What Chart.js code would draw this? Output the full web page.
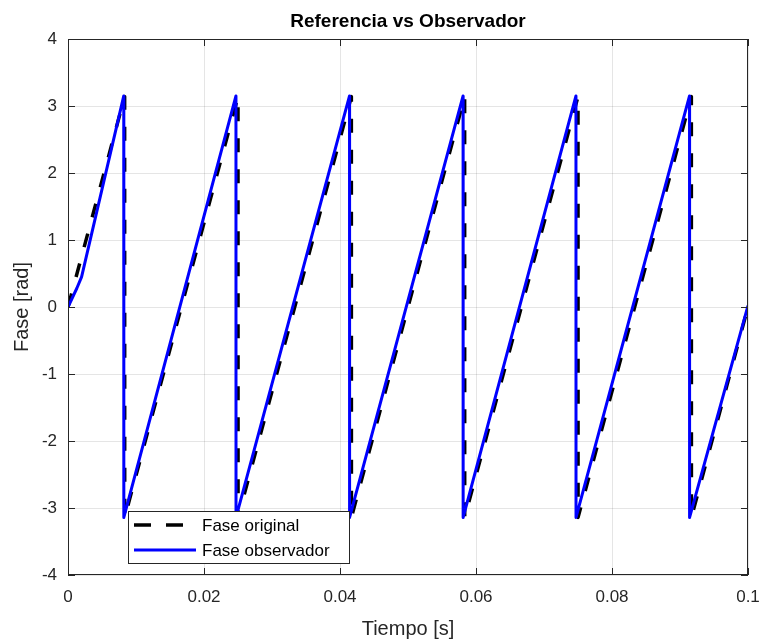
<!DOCTYPE html>
<html>
<head>
<meta charset="utf-8">
<script src="https://cdn.jsdelivr.net/npm/chart.js@4.4.0/dist/chart.umd.min.js"></script>
<style>
  html, body { margin: 0; padding: 0; background: #fff; }
  #wrap { width: 763px; height: 641px; }
</style>
</head>
<body>
<div id="wrap"><canvas id="chart"></canvas></div>
<script>
// ==========================================
// Referencia vs Observador - fase (rad) vs tiempo (s)
// ==========================================

const chartTitle = 'Referencia vs Observador';
const xLabel = 'Tiempo [s]';
const yLabel = 'Fase [rad]';
const xTicks = [0, 0.02, 0.04, 0.06, 0.08, 0.1];
const yTicks = [-4, -3, -2, -1, 0, 1, 2, 3, 4];

// Fase original (sawtooth vertices)
const tOriginal = [0, 0.00833, 0.00834, 0.025, 0.02501, 0.04167, 0.04168,
    0.05833, 0.05834, 0.075, 0.07501, 0.09167, 0.09168, 0.1];
const faseOriginal = [0, 3.14, -3.14, 3.14, -3.14, 3.14, -3.14,
    3.14, -3.14, 3.14, -3.14, 3.14, -3.14, 0];

// Fase observador (initial transient then tracks the reference)
const tObservador = [0, 0.0013, 0.002, 0.0082, 0.00821, 0.0247, 0.02471,
    0.0414, 0.04141, 0.0581, 0.05811, 0.0747, 0.07471, 0.0914, 0.09141, 0.1];
const faseObservador = [0, 0.28, 0.45, 3.15, -3.14, 3.15, -3.14,
    3.15, -3.14, 3.15, -3.14, 3.15, -3.14, 3.15, -3.14, 0.02];

const axisColor = '#262626';
const gridColor = 'rgba(0, 0, 0, 0.1)';
const fontFamily = "'Liberation Sans', Arial, sans-serif";

const toPoints = (xs, ys) => xs.map((x, i) => ({ x, y: ys[i] }));

// Box, inward ticks, title and legend drawn MATLAB style
const matlabAxes = {
    id: 'matlabAxes',
    afterDatasetsDraw(chart) {
        const { ctx, chartArea: a, scales } = chart;
        ctx.save();
        ctx.strokeStyle = axisColor;
        ctx.lineWidth = 1;
        ctx.strokeRect(a.left + 0.5, a.top + 0.5, a.right - a.left - 1, a.bottom - a.top - 1);

        const tl = 7;
        ctx.beginPath();
        xTicks.forEach(v => {
            const px = Math.round(scales.x.getPixelForValue(v)) + 0.5;
            ctx.moveTo(px, a.bottom); ctx.lineTo(px, a.bottom - tl);
            ctx.moveTo(px, a.top); ctx.lineTo(px, a.top + tl);
        });
        yTicks.forEach(v => {
            const py = Math.round(scales.y.getPixelForValue(v)) + 0.5;
            ctx.moveTo(a.left, py); ctx.lineTo(a.left + tl, py);
            ctx.moveTo(a.right, py); ctx.lineTo(a.right - tl, py);
        });
        ctx.stroke();

        // title
        ctx.fillStyle = '#000';
        ctx.font = 'bold 19px ' + fontFamily;
        ctx.textAlign = 'center';
        ctx.textBaseline = 'middle';
        ctx.fillText(chartTitle, (a.left + a.right) / 2, 22);

        // legend box
        const lx = a.left + 60, ly = a.bottom - 64, lw = 221, lh = 52;
        ctx.fillStyle = '#fff';
        ctx.fillRect(lx, ly, lw, lh);
        ctx.strokeStyle = '#262626';
        ctx.strokeRect(lx + 0.5, ly + 0.5, lw, lh);

        const rows = [
            { label: 'Fase original', color: '#000', width: 3.5, dash: [17, 15] },
            { label: 'Fase observador', color: '#0000ff', width: 3, dash: [] }
        ];
        ctx.font = '17px ' + fontFamily;
        ctx.textAlign = 'left';
        rows.forEach((r, i) => {
            const y = ly + 14 + i * 25;
            ctx.beginPath();
            ctx.setLineDash(r.dash);
            ctx.strokeStyle = r.color;
            ctx.lineWidth = r.width;
            ctx.moveTo(lx + 6, y);
            ctx.lineTo(lx + 68, y);
            ctx.stroke();
            ctx.setLineDash([]);
            ctx.fillStyle = '#000';
            ctx.fillText(r.label, lx + 74, y + 1);
        });
        ctx.restore();
    }
};

new Chart(document.getElementById('chart'), {
    type: 'scatter',
    data: {
        datasets: [
            {
                label: 'Fase original',
                data: toPoints(tOriginal, faseOriginal),
                showLine: true,
                borderColor: '#000',
                borderWidth: 3.5,
                borderDash: [14, 17],
                borderJoinStyle: 'round',
                pointRadius: 0,
                tension: 0,
                order: 2
            },
            {
                label: 'Fase observador',
                data: toPoints(tObservador, faseObservador),
                showLine: true,
                borderColor: '#0000ff',
                borderWidth: 3,
                borderJoinStyle: 'round',
                pointRadius: 0,
                tension: 0,
                order: 1
            }
        ]
    },
    options: {
        responsive: true,
        maintainAspectRatio: false,
        animation: false,
        layout: { padding: { top: 39, right: 15, left: 0, bottom: 0 } },
        plugins: {
            legend: { display: false },
            tooltip: { enabled: false }
        },
        scales: {
            x: {
                type: 'linear',
                min: 0,
                max: 0.1,
                afterBuildTicks: s => { s.ticks = xTicks.map(v => ({ value: v })); },
                afterFit: s => { s.height = 66; s.paddingLeft = 0; s.paddingRight = 0; },
                border: { display: false },
                grid: { color: gridColor, drawTicks: false },
                ticks: {
                    color: axisColor,
                    padding: 12,
                    maxRotation: 0,
                    font: { size: 17, family: fontFamily },
                    callback: v => String(v)
                },
                title: {
                    display: true,
                    text: xLabel,
                    color: axisColor,
                    padding: { top: 4, bottom: 0 },
                    font: { size: 20, family: fontFamily }
                }
            },
            y: {
                type: 'linear',
                min: -4,
                max: 4,
                afterBuildTicks: s => { s.ticks = yTicks.map(v => ({ value: v })); },
                afterFit: s => { s.width = 68; s.paddingTop = 0; s.paddingBottom = 0; },
                border: { display: false },
                grid: { color: gridColor, drawTicks: false },
                ticks: {
                    color: axisColor,
                    padding: 11,
                    font: { size: 17, family: fontFamily },
                    callback: v => String(v)
                },
                title: {
                    display: true,
                    text: yLabel,
                    color: axisColor,
                    padding: { top: 10, bottom: 0 },
                    font: { size: 20, family: fontFamily }
                }
            }
        }
    },
    plugins: [matlabAxes]
});
</script>
</body>
</html>
